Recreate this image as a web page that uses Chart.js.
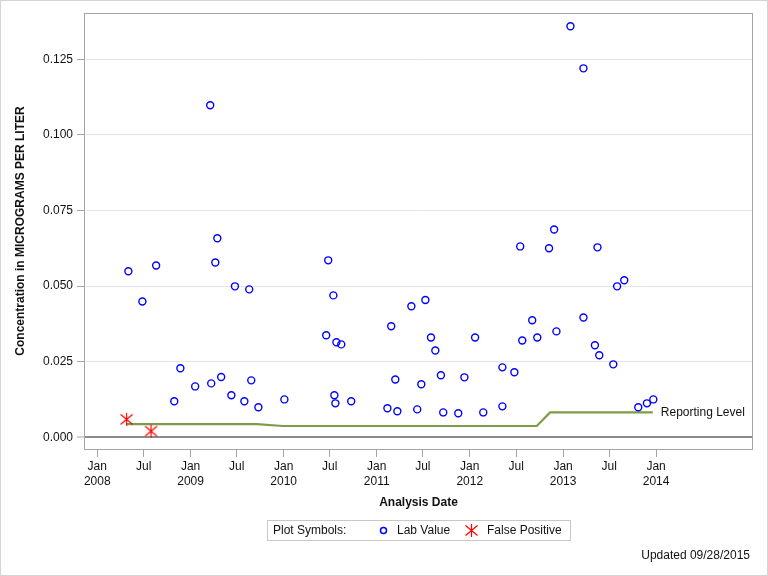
<!DOCTYPE html>
<html>
<head>
<meta charset="utf-8">
<title>Concentration in MICROGRAMS PER LITER</title>
<script src="https://cdn.jsdelivr.net/npm/chart.js"></script>
<style>
  html, body { margin: 0; padding: 0; background: #fff; }
  canvas { display: block; }
</style>
</head>
<body>
<canvas id="labChart" width="768" height="576"></canvas>
<script>
// 検査値 (Lab Value)
const labDates = [
    '2008-05-02', '2008-06-26', '2008-08-19', '2008-10-29', '2008-11-22',
    '2009-01-19', '2009-03-19', '2009-03-23', '2009-04-08', '2009-04-16',
    '2009-05-01', '2009-06-10', '2009-06-24', '2009-07-31', '2009-08-19',
    '2009-08-27', '2009-09-24', '2010-01-04', '2010-06-17', '2010-06-25',
    '2010-07-15', '2010-07-19', '2010-07-23', '2010-07-27', '2010-08-15',
    '2010-09-23', '2011-02-12', '2011-02-27', '2011-03-15', '2011-03-23',
    '2011-05-17', '2011-06-09', '2011-06-25', '2011-07-11', '2011-08-02',
    '2011-08-19', '2011-09-10', '2011-09-19', '2011-11-17', '2011-12-11',
    '2012-01-22', '2012-02-23', '2012-05-08', '2012-05-08', '2012-06-24',
    '2012-07-17', '2012-07-25', '2012-09-02', '2012-09-22', '2012-11-07',
    '2012-11-27', '2012-12-06', '2013-01-30', '2013-03-22', '2013-03-22',
    '2013-05-06', '2013-05-16', '2013-05-23', '2013-07-17', '2013-08-01',
    '2013-08-29', '2013-10-23', '2013-11-26', '2013-12-21'
];
const labValues = [
    0.0549, 0.0449, 0.0568, 0.0119, 0.0228,
    0.0168, 0.1098, 0.0178, 0.0578, 0.0658,
    0.0199, 0.0139, 0.0499, 0.0119, 0.0489,
    0.0188, 0.0099, 0.0125, 0.0337, 0.0585,
    0.0469, 0.0139, 0.0112, 0.0314, 0.0307,
    0.0119, 0.0096, 0.0367, 0.0191, 0.0086,
    0.0433, 0.0092, 0.0175, 0.0454, 0.0330,
    0.0287, 0.0205, 0.0082, 0.0079, 0.0198,
    0.0330, 0.0082, 0.0231, 0.0102, 0.0215,
    0.0631, 0.0320, 0.0387, 0.0330, 0.0625,
    0.0687, 0.0350, 0.1359, 0.1220, 0.0396,
    0.0304, 0.0628, 0.0271, 0.0241, 0.0499,
    0.0519, 0.0099, 0.0112, 0.0125
];

// 偽陽性 (False Positive)
const fpDates = ['2008-04-25', '2008-07-30'];
const fpValues = [0.0059, 0.0020];

// 報告下限 (Reporting Level)
const rlDates = ['2008-04-25', '2009-09-18', '2009-12-29', '2012-09-20', '2012-11-11', '2013-12-19'];
const rlValues = [0.0043, 0.0043, 0.0037, 0.0037, 0.0082, 0.0082];

// 軸の目盛
const xTickDates = [
    '2008-01-01', '2008-07-01', '2009-01-01', '2009-07-01', '2010-01-01', '2010-07-01',
    '2011-01-01', '2011-07-01', '2012-01-01', '2012-07-01', '2013-01-01', '2013-07-01',
    '2014-01-01'
];
const xTickLabels = [
    ['Jan', '2008'], 'Jul', ['Jan', '2009'], 'Jul', ['Jan', '2010'], 'Jul',
    ['Jan', '2011'], 'Jul', ['Jan', '2012'], 'Jul', ['Jan', '2013'], 'Jul',
    ['Jan', '2014']
];
const yTicks = [0, 0.025, 0.05, 0.075, 0.1, 0.125];

const toMs = d => Date.parse(d + 'T00:00:00Z');
const toPoints = (dates, values) => dates.map((d, i) => ({ x: toMs(d), y: values[i] }));

// 星マーク（縦線 + X）
function makeStar() {
    const c = document.createElement('canvas');
    c.width = 15; c.height = 15;
    const g = c.getContext('2d');
    g.strokeStyle = '#ff0000';
    g.lineWidth = 1.2;
    g.beginPath();
    g.moveTo(7.5, 1); g.lineTo(7.5, 14);
    g.moveTo(1.5, 2.5); g.lineTo(13.5, 12.5);
    g.moveTo(13.5, 2.5); g.lineTo(1.5, 12.5);
    g.stroke();
    return c;
}
const starMark = makeStar();

Chart.defaults.font.family = "'Liberation Sans', Arial, sans-serif";
Chart.defaults.font.size = 12;
Chart.defaults.color = '#111';

// 枠・凡例・注記
const decorations = {
    id: 'decorations',
    beforeDraw(chart) {
        const ctx = chart.ctx;
        ctx.save();
        ctx.fillStyle = '#fff';
        ctx.fillRect(0, 0, chart.width, chart.height);
        ctx.strokeStyle = '#d4d4d4';
        ctx.lineWidth = 1;
        ctx.strokeRect(0.5, 0.5, chart.width - 1, chart.height - 1);
        ctx.restore();
    },
    afterDraw(chart) {
        const ctx = chart.ctx;
        const a = chart.chartArea;
        ctx.save();
        // プロット枠
        ctx.strokeStyle = '#a2a6ab';
        ctx.lineWidth = 1;
        ctx.strokeRect(Math.round(a.left) + 0.5, Math.round(a.top) + 0.5,
            Math.round(a.right - a.left) - 1, Math.round(a.bottom - a.top));

        ctx.font = "12px 'Liberation Sans', Arial, sans-serif";
        ctx.fillStyle = '#111';
        ctx.textBaseline = 'middle';

        // Reporting Level ラベル
        const rlMeta = chart.getDatasetMeta(2);
        const last = rlMeta.data[rlMeta.data.length - 1];
        ctx.textAlign = 'left';
        ctx.fillText(chart.data.datasets[2].label, last.x + 8, last.y);

        // 凡例
        ctx.strokeStyle = '#c8c8c8';
        ctx.strokeRect(267.5, 520.5, 303, 20);
        ctx.fillText('Plot Symbols:', 273, 531);
        ctx.strokeStyle = '#0000ff';
        ctx.lineWidth = 1.5;
        ctx.beginPath();
        ctx.arc(383.5, 530.5, 3, 0, Math.PI * 2);
        ctx.stroke();
        ctx.fillText(chart.data.datasets[0].label, 397, 531);
        ctx.drawImage(starMark, 464, 523);
        ctx.fillText(chart.data.datasets[1].label, 487, 531);

        // 更新日
        ctx.textAlign = 'right';
        ctx.fillText('Updated 09/28/2015', 750, 556);
        ctx.restore();
    }
};

const ctx = document.getElementById('labChart').getContext('2d');
const chart = new Chart(ctx, {
    type: 'scatter',
    data: {
        datasets: [{
            label: 'Lab Value',
            data: toPoints(labDates, labValues),
            pointStyle: 'circle',
            pointRadius: 3.5,
            borderColor: '#0000ff',
            backgroundColor: 'rgba(0,0,0,0)',
            borderWidth: 1.4
        }, {
            label: 'False Positive',
            data: toPoints(fpDates, fpValues),
            pointStyle: starMark,
            pointRadius: 7
        }, {
            label: 'Reporting Level',
            data: toPoints(rlDates, rlValues),
            showLine: true,
            pointRadius: 0,
            borderColor: '#7f9c4a',
            borderWidth: 2.2,
            fill: false
        }]
    },
    options: {
        responsive: false,
        animation: false,
        devicePixelRatio: 1,
        layout: { padding: { top: 13, right: 15, bottom: 61, left: 0 } },
        plugins: {
            legend: { display: false },
            tooltip: { enabled: false }
        },
        scales: {
            x: {
                type: 'linear',
                min: toMs('2007-11-10'),
                max: toMs('2015-01-16'),
                afterBuildTicks: scale => {
                    scale.ticks = xTickDates.map(d => ({ value: toMs(d) }));
                },
                afterFit: scale => { scale.height = 66; },
                ticks: {
                    autoSkip: false,
                    maxRotation: 0,
                    padding: 2,
                    font: { size: 12, lineHeight: 1.25 },
                    callback: (value, index) => xTickLabels[index]
                },
                grid: {
                    drawOnChartArea: false,
                    drawTicks: true,
                    tickLength: 8,
                    tickColor: '#a2a6ab'
                },
                border: { display: false },
                title: {
                    display: true,
                    text: 'Analysis Date',
                    font: { size: 12, weight: 'bold' },
                    padding: { top: 0, bottom: 5 }
                }
            },
            y: {
                type: 'linear',
                min: -0.0039,
                max: 0.1403,
                afterBuildTicks: scale => {
                    scale.ticks = yTicks.map(v => ({ value: v }));
                },
                afterFit: scale => { scale.width = 84; },
                ticks: {
                    padding: 4,
                    callback: value => value.toFixed(3)
                },
                grid: {
                    drawTicks: true,
                    tickLength: 7,
                    tickColor: '#a2a6ab',
                    tickWidth: 1,
                    color: c => (c.tick && c.tick.value === 0) ? '#8c8c8c' : '#e4e4e4',
                    lineWidth: c => (c.tick && c.tick.value === 0) ? 2 : 1
                },
                border: { display: false },
                title: {
                    display: true,
                    text: 'Concentration in MICROGRAMS PER LITER',
                    font: { size: 12, weight: 'bold' },
                    padding: { top: 13, bottom: 0 }
                }
            }
        }
    },
    plugins: [decorations]
});
</script>
</body>
</html>
